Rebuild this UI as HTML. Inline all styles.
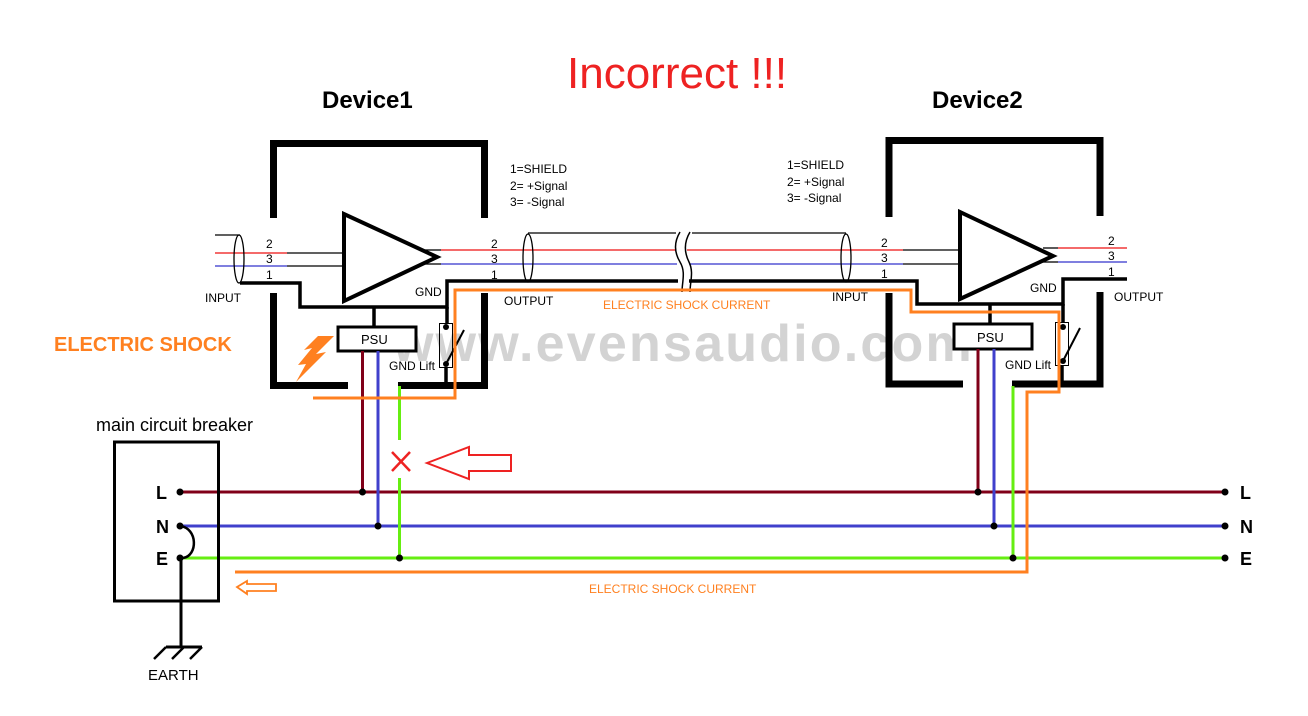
<!DOCTYPE html>
<html><head><meta charset="utf-8"><style>
html,body{margin:0;padding:0;background:#fff;}
svg{display:block;font-family:"Liberation Sans",Arial,sans-serif;}
</style></head><body>
<svg width="1308" height="716" viewBox="0 0 1308 716" xmlns="http://www.w3.org/2000/svg">
<rect width="1308" height="716" fill="#fff"/>
<!-- watermark -->
<text x="393" y="361" font-size="52" font-weight="bold" fill="#d3d3d3" letter-spacing="2.2">www.evensaudio.com</text>

<!-- Titles -->
<text x="567" y="88" font-size="44" fill="#ee2222">Incorrect !!!</text>
<text x="322" y="108" font-size="24" font-weight="bold">Device1</text>
<text x="932" y="108" font-size="24" font-weight="bold">Device2</text>

<!-- Device boxes -->
<g stroke="#000" stroke-width="7" fill="none" stroke-linecap="butt">
<path d="M273.5 218 V143.5 H484.5 V218"/>
<path d="M273.5 293 V385.5 H348"/>
<path d="M398 385.5 H484.5 V293"/>
<path d="M889 217 V140.5 H1100 V216"/>
<path d="M889 293 V384 H963"/>
<path d="M1012 384 H1100 V292"/>
</g>

<!-- amplifiers -->
<polygon points="344,214 344,301 437,257" fill="none" stroke="#000" stroke-width="4"/>
<polygon points="960,212 960,299 1053,256" fill="none" stroke="#000" stroke-width="4"/>

<g stroke-width="1.3" fill="none">
<line x1="215" y1="235" x2="240" y2="235" stroke="#000"/>
<line x1="215" y1="253" x2="287" y2="253" stroke="#ee1111"/>
<line x1="287" y1="253" x2="344" y2="253" stroke="#000"/>
<line x1="215" y1="266" x2="287" y2="266" stroke="#3333cc"/>
<line x1="287" y1="266" x2="344" y2="266" stroke="#000"/>
<ellipse cx="239" cy="259" rx="5" ry="24" stroke="#000"/>
<line x1="425" y1="250" x2="441" y2="250" stroke="#000"/>
<line x1="425" y1="264" x2="441" y2="264" stroke="#000"/>
<line x1="441" y1="250" x2="675" y2="250" stroke="#ee1111"/>
<line x1="441" y1="264" x2="677" y2="264" stroke="#3333cc"/>
<line x1="687" y1="250" x2="903" y2="250" stroke="#ee1111"/>
<line x1="689" y1="264" x2="903" y2="264" stroke="#3333cc"/>
<line x1="903" y1="250" x2="960" y2="250" stroke="#000"/>
<line x1="903" y1="264" x2="960" y2="264" stroke="#000"/>
<line x1="528" y1="233" x2="676" y2="233" stroke="#000"/>
<line x1="692" y1="233" x2="846" y2="233" stroke="#000"/>
<ellipse cx="528" cy="258" rx="5" ry="24" stroke="#000"/>
<ellipse cx="846" cy="258" rx="5" ry="24" stroke="#000"/>
<path d="M680 232 C674 242 674 252 680 262 C686 272 682 282 682 292" stroke="#000" stroke-width="1.5"/>
<path d="M690 232 C684 242 684 252 689 262 C694 272 690 282 690 292" stroke="#000" stroke-width="1.5"/>
<line x1="1043" y1="248" x2="1058" y2="248" stroke="#000"/>
<line x1="1043" y1="262" x2="1058" y2="262" stroke="#000"/>
<line x1="1058" y1="248" x2="1127" y2="248" stroke="#ee1111"/>
<line x1="1058" y1="262" x2="1127" y2="262" stroke="#3333cc"/>
</g>

<g stroke="#000" stroke-width="3.5" fill="none">
<path d="M240 283 H300 V307 H447 V281 H678"/>
<line x1="447" y1="307" x2="447" y2="323"/>
<path d="M689 281 H917 V304 H1063 V279 H1127"/>
<line x1="1063" y1="304" x2="1063" y2="323"/>
<line x1="374" y1="307" x2="374" y2="326"/>
<line x1="990" y1="304" x2="990" y2="323"/>
<line x1="446" y1="368" x2="446" y2="384"/>
<line x1="1062" y1="365" x2="1062" y2="382"/>
</g>

<rect x="338" y="327" width="78" height="24" fill="#fff" stroke="#000" stroke-width="3"/>
<rect x="954" y="324" width="78" height="25" fill="#fff" stroke="#000" stroke-width="3"/>
<text x="361" y="344" font-size="13">PSU</text>
<text x="977" y="342" font-size="13">PSU</text>

<rect x="439.5" y="323.5" width="13" height="44" fill="none" stroke="#000" stroke-width="1"/>
<circle cx="446" cy="327" r="3"/><circle cx="446" cy="364" r="3"/>
<line x1="446" y1="364" x2="464" y2="330" stroke="#000" stroke-width="2"/>
<rect x="1055.5" y="322.5" width="13" height="43" fill="none" stroke="#000" stroke-width="1"/>
<circle cx="1063" cy="327" r="3"/><circle cx="1063" cy="361" r="3"/>
<line x1="1063" y1="361" x2="1080" y2="328" stroke="#000" stroke-width="2"/>

<g stroke-width="3" fill="none">
<line x1="180" y1="492" x2="1225" y2="492" stroke="#800018"/>
<line x1="180" y1="526" x2="1225" y2="526" stroke="#4040cc"/>
<line x1="180" y1="558" x2="1225" y2="558" stroke="#66ee11"/>
<line x1="362.5" y1="351" x2="362.5" y2="492" stroke="#800018"/>
<line x1="378" y1="351" x2="378" y2="526" stroke="#4040cc"/>
<line x1="399.5" y1="386" x2="399.5" y2="440" stroke="#66ee11"/>
<line x1="399.5" y1="478" x2="399.5" y2="558" stroke="#66ee11"/>
<line x1="978" y1="349" x2="978" y2="492" stroke="#800018"/>
<line x1="994" y1="349" x2="994" y2="526" stroke="#4040cc"/>
<line x1="1013" y1="386" x2="1013" y2="558" stroke="#66ee11"/>
</g>
<g fill="#000">
<circle cx="180" cy="492" r="3.5"/><circle cx="180" cy="526" r="3.5"/><circle cx="180" cy="558" r="3.5"/>
<circle cx="1225" cy="492" r="3.5"/><circle cx="1225" cy="526" r="3.5"/><circle cx="1225" cy="558" r="3.5"/>
<circle cx="362.5" cy="492" r="3.5"/><circle cx="378" cy="526" r="3.5"/><circle cx="399.5" cy="558" r="3.5"/>
<circle cx="978" cy="492" r="3.5"/><circle cx="994" cy="526" r="3.5"/><circle cx="1013" cy="558" r="3.5"/>
</g>

<path d="M313 398 H455 V290 H911 V312 H1059 V392 H1027 V572 H235" fill="none" stroke="#ff8020" stroke-width="3"/>
<polygon points="237,587 247,581 247,584 276,584 276,591 247,591 247,594" fill="none" stroke="#ff8020" stroke-width="1.8"/>
<polygon points="318,336 334,336 316,354 326,352 296,382 306,364 298,365 312,348 304,350" fill="#ff8020"/>

<g stroke="#ee2222" stroke-width="2.5" fill="none">
<line x1="392" y1="452" x2="410" y2="471"/>
<line x1="410" y1="452" x2="392" y2="471"/>
<polygon points="427,463 469,447 469,455 511,455 511,471 469,471 469,479" stroke-width="2"/>
</g>

<rect x="114.5" y="442" width="104" height="159" fill="none" stroke="#000" stroke-width="3"/>
<path d="M180 526 C198 528 198 556 183 558" fill="none" stroke="#000" stroke-width="2.5"/>
<line x1="181" y1="558" x2="181" y2="647" stroke="#000" stroke-width="3"/>
<line x1="166" y1="647" x2="202" y2="647" stroke="#000" stroke-width="3"/>
<line x1="166" y1="647" x2="154" y2="659" stroke="#000" stroke-width="2.5"/>
<line x1="184" y1="647" x2="172" y2="659" stroke="#000" stroke-width="2.5"/>
<line x1="202" y1="647" x2="190" y2="659" stroke="#000" stroke-width="2.5"/>
<text x="96" y="431" font-size="18">main circuit breaker</text>
<text x="148" y="680" font-size="15">EARTH</text>
<g font-size="18" font-weight="bold">
<text x="156" y="499">L</text><text x="156" y="533">N</text><text x="156" y="565">E</text>
<text x="1240" y="499">L</text><text x="1240" y="533">N</text><text x="1240" y="565">E</text>
</g>

<g font-size="12">
<text x="266" y="248">2</text><text x="266" y="263">3</text><text x="266" y="279">1</text>
<text x="491" y="248">2</text><text x="491" y="263">3</text><text x="491" y="279">1</text>
<text x="881" y="247">2</text><text x="881" y="262">3</text><text x="881" y="278">1</text>
<text x="1108" y="245">2</text><text x="1108" y="260">3</text><text x="1108" y="276">1</text>
<text x="205" y="302">INPUT</text>
<text x="415" y="296">GND</text>
<text x="504" y="305">OUTPUT</text>
<text x="389" y="370">GND Lift</text>
<text x="832" y="301">INPUT</text>
<text x="1030" y="292">GND</text>
<text x="1114" y="301">OUTPUT</text>
<text x="1005" y="369">GND Lift</text>
<text x="510" y="173">1=SHIELD</text>
<text x="510" y="190">2=  +Signal</text>
<text x="510" y="206">3=  -Signal</text>
<text x="787" y="169">1=SHIELD</text>
<text x="787" y="186">2=  +Signal</text>
<text x="787" y="202">3=  -Signal</text>
<text x="603" y="309" fill="#ff8020">ELECTRIC SHOCK CURRENT</text>
<text x="589" y="593" fill="#ff8020">ELECTRIC SHOCK CURRENT</text>
</g>
<text x="54" y="351" font-size="20" font-weight="bold" fill="#ff8020">ELECTRIC SHOCK</text>
</svg>
</body></html>
